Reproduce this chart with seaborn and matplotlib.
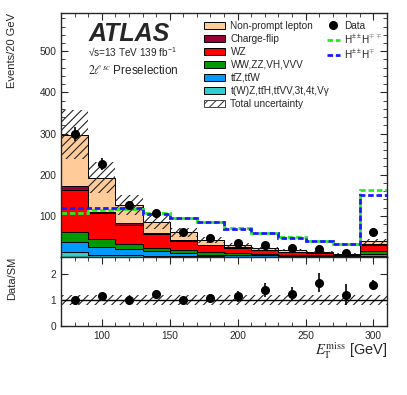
import numpy as np
import pandas as pd
import matplotlib
matplotlib.use("Agg")
import matplotlib.pyplot as plt
import seaborn as sns
from matplotlib.patches import Patch
from matplotlib.lines import Line2D
from matplotlib.ticker import MultipleLocator, FixedLocator, NullLocator

# binning in E_T^miss [GeV], last bin is overflow
edges = [70, 90, 110, 130, 150, 170, 190, 210, 230, 250, 270, 290, 310]

# background yields per bin
nonprompt = [124, 83, 44, 28, 18, 12, 5, 4, 4, 2.5, 1, 6]
chargeflip = [10, 3, 4, 3, 2, 2, 2, 1, 1, 0.5, 0.5, 2]
wz = [102, 63, 46, 32, 22, 16, 12, 8, 6, 4.5, 3, 15]
diboson = [25, 20, 13, 9, 8, 6, 5, 4, 3, 2, 1.5, 7]
ttv = [25, 18, 15, 11, 8, 4.5, 4, 3, 2.2, 1.9, 1, 6]
rare = [11, 6, 4, 3, 2, 1.5, 1, 1, 0.8, 0.6, 0.5, 2]
rel_unc = [0.2, 0.2, 0.19, 0.2, 0.18, 0.18, 0.18, 0.18, 0.18, 0.18, 0.18, 0.18]

data = [298, 226, 126, 106, 60, 45, 33, 29, 21, 20, 9, 60]

sig_hpphmm = [107, 113, 116, 107, 94, 84, 70, 59, 49, 39, 32, 163]
sig_hpphm = [120, 118, 118, 104, 94, 84, 69, 59, 47, 38, 32, 150]

procs = ['Non-prompt lepton', 'Charge-flip', 'WZ', 'WW,ZZ,VH,VVV',
         'tt\u0304Z,tt\u0304W',
         't(W)Z,tt\u0304H,tt\u0304VV,3t,4t,V\u03b3']
colors = ['#ffcc99', '#990033', '#ff0000', '#009900', '#0099ff', '#33cccc']

sns.set_style('ticks')
plt.rcParams['font.family'] = ['Liberation Sans', 'DejaVu Sans']
plt.rcParams['mathtext.fontset'] = 'custom'
plt.rcParams['mathtext.rm'] = 'Liberation Sans'
plt.rcParams['mathtext.it'] = 'Liberation Sans:italic'
plt.rcParams['mathtext.bf'] = 'Liberation Sans:bold'
plt.rcParams['axes.linewidth'] = 1.0
plt.rcParams['hatch.linewidth'] = 0.8

edges_a = np.array(edges, dtype=float)
centers = 0.5 * (edges_a[1:] + edges_a[:-1])
comps = [nonprompt, chargeflip, wz, diboson, ttv, rare]
total = np.sum(np.array(comps), axis=0)
data_a = np.array(data, dtype=float)
unc = np.array(rel_unc)

df = pd.DataFrame({
    'met': np.tile(centers, len(procs)),
    'events': np.concatenate(comps),
    'process': np.repeat(procs, len(centers)),
})

fig = plt.figure(figsize=(4.07, 3.95), dpi=100)
ax = fig.add_axes([0.15, 0.3494, 0.801, 0.6177])
rax = fig.add_axes([0.15, 0.1747, 0.801, 0.1747], sharex=ax)

sns.histplot(data=df, x='met', weights='events', hue='process', hue_order=procs,
             palette=colors, multiple='stack', bins=edges, element='step',
             edgecolor='black', linewidth=0.7, alpha=1, legend=False, ax=ax)

# total uncertainty band
ax.stairs(total * (1 + unc), edges, baseline=total * (1 - unc), fill=True,
          hatch='////', facecolor='none', edgecolor='#222222', linewidth=0)

# signals
ax.stairs(sig_hpphmm, edges, baseline=None, color='#22ee22', lw=2,
          linestyle=(0, (2, 1)))
ax.stairs(sig_hpphm, edges, baseline=None, color='#1a1aff', lw=2,
          linestyle=(0, (2, 1)))

# data
ax.errorbar(centers, data_a, yerr=np.sqrt(data_a), fmt='o', color='black',
            ms=5.5, elinewidth=1.2, capsize=0, zorder=5)

ax.set_xlim(70, 310)
ax.set_ylim(0, 593)
ax.yaxis.set_major_locator(FixedLocator([100, 200, 300, 400, 500]))
ax.yaxis.set_minor_locator(MultipleLocator(20))
ax.xaxis.set_major_locator(MultipleLocator(50))
ax.xaxis.set_minor_locator(MultipleLocator(10))
ax.tick_params(which='both', direction='in', top=True, right=True, labelsize=7.3)
ax.tick_params(which='major', length=5)
ax.tick_params(which='minor', length=2.8)
ax.tick_params(axis='x', labelbottom=False)
ax.set_xlabel('')
ax.set_ylabel('Events/20 GeV', fontsize=8, loc='top')
ax.yaxis.set_label_coords(-0.135, 1.0)

ax.text(0.083, 0.885, 'ATLAS', transform=ax.transAxes, fontsize=18,
        fontweight='bold', fontstyle='italic')
ax.text(0.083, 0.818, '√s=13 TeV 139 fb$^{-1}$', transform=ax.transAxes, fontsize=7.2)
ax.text(0.083, 0.752, r'$2\ell^{sc}$ Preselection', transform=ax.transAxes,
        fontsize=8.5, math_fontfamily='stix')

h1 = [Patch(facecolor=c, edgecolor='black', lw=0.7) for c in colors]
h1.append(Patch(facecolor='white', edgecolor='#444444', hatch='////', lw=0.7))
leg1 = ax.legend(h1, procs + ['Total uncertainty'], loc='upper left',
                 bbox_to_anchor=(0.44, 0.968), frameon=False, fontsize=7.2,
                 handlelength=2.1, handleheight=0.8, labelspacing=0.3,
                 borderpad=0, borderaxespad=0, handletextpad=0.5)
ax.add_artist(leg1)
h2 = [Line2D([], [], marker='o', ls='none', color='black', ms=5.5),
      Line2D([], [], color='#22ee22', lw=2, linestyle=(0, (2, 1))),
      Line2D([], [], color='#1a1aff', lw=2, linestyle=(0, (2, 1)))]
ax.legend(h2, ['Data', r'H$^{\pm\pm}$H$^{\mp\mp}$', r'H$^{\pm\pm}$H$^{\mp}$'],
          loc='upper left', bbox_to_anchor=(0.815, 0.968), frameon=False,
          fontsize=7.2, handlelength=1.3, handleheight=0.8, labelspacing=0.2,
          borderpad=0, borderaxespad=0, handletextpad=0.4)

# ratio panel
ratio = data_a / total
rerr = np.sqrt(data_a) / total
rax.stairs(1 + unc, edges, baseline=1 - unc, fill=True, hatch='////',
           facecolor='none', edgecolor='#222222', linewidth=0)
rax.axhline(1, color='black', lw=1)
rax.errorbar(centers, ratio, yerr=rerr, fmt='o', color='black', ms=5.5,
             elinewidth=1.2, capsize=0, zorder=5)
rax.set_ylim(0, 2.65)
rax.yaxis.set_major_locator(FixedLocator([0, 1, 2]))
rax.yaxis.set_minor_locator(NullLocator())
rax.tick_params(which='both', direction='in', top=True, right=True, labelsize=7.3)
rax.tick_params(which='major', length=5)
rax.tick_params(which='minor', length=2.8)
rax.set_ylabel('Data/SM', fontsize=8, loc='top')
rax.yaxis.set_label_coords(-0.135, 1.0)
rax.set_xlabel(r'$E_{\mathrm{T}}^{\mathrm{miss}}$ [GeV]', fontsize=10.5, loc='right',
               math_fontfamily='stix')
rax.xaxis.set_label_coords(1.0, -0.2)

fig.savefig('out.png', dpi=100)
